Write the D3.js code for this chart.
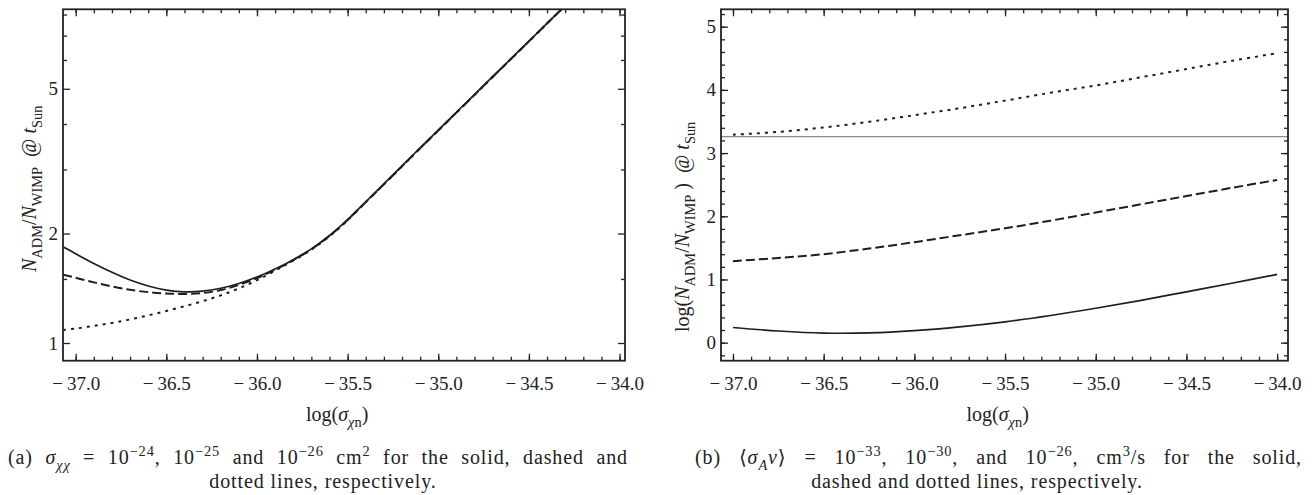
<!DOCTYPE html>
<html>
<head>
<meta charset="utf-8">
<script src="https://cdn.jsdelivr.net/npm/d3@7"></script>
<style>
  body { margin: 0; background: #fff; }
  text { font-family: "Liberation Serif", "DejaVu Serif", serif; fill: #222; white-space: pre; }
</style>
</head>
<body>
<div id="chart"></div>
<script>
// values
const xTickValues = [-37.0, -36.5, -36.0, -35.5, -35.0, -34.5, -34.0]

// (a) ratio on log axis
const xGridA = [-37.07, -37.0, -36.9, -36.8, -36.7, -36.6, -36.5, -36.4, -36.3, -36.2, -36.1, -36.0, -35.9, -35.8, -35.7,
                -35.6, -35.5, -35.4, -35.3, -35.2, -35.1, -35.0, -34.9, -34.8, -34.7, -34.6, -34.5, -34.4, -34.3]
const solidA  = [1.84, 1.76, 1.655, 1.565, 1.49, 1.435, 1.398, 1.382, 1.388, 1.414, 1.458, 1.518, 1.597, 1.695, 1.815,
                 1.975, 2.185, 2.445, 2.74, 3.07, 3.44, 3.85, 4.31, 4.82, 5.40, 6.04, 6.76, 7.57, 8.47]
const dashedA = [1.54, 1.512, 1.468, 1.430, 1.400, 1.380, 1.368, 1.364, 1.372, 1.398, 1.445, 1.508, 1.590, 1.69, 1.81,
                 1.97, 2.18, 2.44, 2.73, 3.06, 3.43, 3.84, 4.30, 4.81, 5.39, 6.03, 6.75, 7.56, 8.46]
const dottedA = [1.086, 1.096, 1.114, 1.135, 1.161, 1.191, 1.225, 1.262, 1.303, 1.352, 1.413, 1.489, 1.581, 1.685, 1.805,
                 1.965, 2.175, 2.44, 2.73, 3.06, 3.43, 3.84, 4.30, 4.81, 5.39, 6.03, 6.75, 7.56, 8.46]
const yTicksA = [1, 2, 5]
const yMinorA = [1.5, 3, 4, 6, 7, 8]

// (b) log of the ratio
const xGridB = [-37.0, -36.75, -36.5, -36.25, -36.0, -35.75, -35.5, -35.25, -35.0, -34.75, -34.5, -34.25, -34.0]
const solidB  = [0.24, 0.185, 0.152, 0.155, 0.19, 0.25, 0.33, 0.43, 0.545, 0.67, 0.805, 0.94, 1.08]
const dashedB = [1.29, 1.34, 1.40, 1.49, 1.59, 1.70, 1.81, 1.93, 2.06, 2.19, 2.32, 2.45, 2.575]
const dottedB = [3.29, 3.335, 3.405, 3.495, 3.60, 3.71, 3.83, 3.955, 4.07, 4.20, 4.33, 4.46, 4.58]
const refLineB = 3.26
const yTicksB = [0, 1, 2, 3, 4, 5]

const W = 1314, H = 495
const svg = d3.select('#chart').append('svg')
    .attr('width', W).attr('height', H)
    .style('background', '#fff')

// helper: text with sub/superscripts
function rich(sel, parts, size) {
    let off = 0
    parts.forEach(p => {
        const [t, m, it] = p
        const target = m === 'sub' ? 0.32 * size : m === 'sup' ? -0.42 * size : 0
        sel.append('tspan')
            .attr('dy', target - off)
            .style('font-size', (m ? size * 0.72 : size) + 'px')
            .style('font-style', it ? 'italic' : 'normal')
            .text(t)
        off = target
    })
    return sel
}

const dashes = { solid: null, dashed: '9,4', dotted: '3,5' }

function panel(cfg) {
    const g = svg.append('g')
    const x = cfg.x, y = cfg.y
    const [x0, x1] = x.range(), [y1, y0] = y.range()

    const clipId = 'clip' + cfg.id
    g.append('clipPath').attr('id', clipId)
        .append('rect').attr('x', x0).attr('y', y0).attr('width', x1 - x0).attr('height', y1 - y0)

    const plot = g.append('g').attr('clip-path', `url(#${clipId})`)

    if (cfg.refLine != null) {
        plot.append('line')
            .attr('x1', x0).attr('x2', x1)
            .attr('y1', y(cfg.refLine)).attr('y2', y(cfg.refLine))
            .attr('stroke', '#8a8a8a').attr('stroke-width', 1.1)
    }

    const line = d3.line().x(d => x(d[0])).y(d => y(d[1])).curve(d3.curveCatmullRom.alpha(0.5))
    cfg.series.forEach(s => {
        plot.append('path')
            .attr('d', line(cfg.xs.map((v, i) => [v, s.values[i]])))
            .attr('fill', 'none')
            .attr('stroke', '#1e1e1e')
            .attr('stroke-width', s.style === 'solid' ? 1.7 : 2)
            .attr('stroke-dasharray', dashes[s.style])
    })

    const xMinor = d3.range(-37.0, -33.95, 0.1).filter(v => v >= x.domain()[0] && v <= x.domain()[1])

    // bottom
    g.append('g').attr('transform', `translate(0,${y1})`)
        .call(d3.axisBottom(x).tickValues(xMinor).tickSize(-4).tickFormat(''))
    g.append('g').attr('class', 'xt').attr('transform', `translate(0,${y1})`)
        .call(d3.axisBottom(x).tickValues(xTickValues).tickSize(-7).tickPadding(9).tickFormat(''))
    // top
    g.append('g').attr('transform', `translate(0,${y0})`)
        .call(d3.axisTop(x).tickValues(xMinor).tickSize(-4).tickFormat(''))
    g.append('g').attr('transform', `translate(0,${y0})`)
        .call(d3.axisTop(x).tickValues(xTickValues).tickSize(-7).tickFormat(''))
    // left
    g.append('g').attr('transform', `translate(${x0},0)`)
        .call(d3.axisLeft(y).tickValues(cfg.yMinor).tickSize(-4).tickFormat(''))
    g.append('g').attr('transform', `translate(${x0},0)`)
        .call(d3.axisLeft(y).tickValues(cfg.yTicks).tickSize(-7).tickPadding(5).tickFormat(d => d))
    // right
    g.append('g').attr('transform', `translate(${x1},0)`)
        .call(d3.axisRight(y).tickValues(cfg.yMinor).tickSize(-4).tickFormat(''))
    g.append('g').attr('transform', `translate(${x1},0)`)
        .call(d3.axisRight(y).tickValues(cfg.yTicks).tickSize(-7).tickFormat(''))

    g.selectAll('.domain').remove()
    g.selectAll('.tick line').attr('stroke', '#222').attr('stroke-width', 1.3)
    g.selectAll('.tick text').style('font-size', '19px').style('font-family', '"Liberation Serif", serif').attr('fill', '#222')

    // x tick labels: minus with a gap, like the TeX output
    g.select('.xt').selectAll('.tick').each(function (d) {
        const t = d3.select(this).select('text').text(null)
            .attr('y', 16).attr('dy', '0.71em')
        t.append('tspan').text('\u2212')
        t.append('tspan').attr('dx', 4).text(Math.abs(d).toFixed(1))
    })

    g.append('rect')
        .attr('x', x0).attr('y', y0).attr('width', x1 - x0).attr('height', y1 - y0)
        .attr('fill', 'none').attr('stroke', '#222').attr('stroke-width', 1.8)

    // x label
    rich(g.append('text').attr('x', (x0 + x1) / 2 - 38).attr('y', 421),
        [['log('], ['σ', null, true], ['χ', 'sub', true], ['n', 'sub'], [')']], 20)
    return g
}

const xA = d3.scaleLinear().domain([-37.07, -33.97]).range([63, 625])
const yA = d3.scaleLog().domain([0.894, 8.27]).range([360.7, 9.3])
panel({
    id: 'a', x: xA, y: yA, xs: xGridA,
    yTicks: yTicksA, yMinor: yMinorA,
    series: [
        { style: 'solid', values: solidA },
        { style: 'dashed', values: dashedA },
        { style: 'dotted', values: dottedA }
    ]
})

const xB = d3.scaleLinear().domain([-37.066, -33.94]).range([721, 1288])
const yB = d3.scaleLinear().domain([-0.285, 5.275]).range([360.7, 9.3])
panel({
    id: 'b', x: xB, y: yB, xs: xGridB,
    yTicks: yTicksB, yMinor: d3.range(-0.2, 5.25, 0.2),
    refLine: refLineB,
    series: [
        { style: 'solid', values: solidB },
        { style: 'dashed', values: dashedB },
        { style: 'dotted', values: dottedB }
    ]
})

// y labels
rich(svg.append('text').attr('transform', 'translate(36,272) rotate(-90)'),
    [['N', null, true], ['ADM', 'sub'], ['/'], ['N', null, true], ['WIMP', 'sub'], ['  @ '], ['t', null, true], ['Sun', 'sub']], 20)
rich(svg.append('text').attr('transform', 'translate(689,332) rotate(-90)'),
    [['log('], ['N', null, true], ['ADM', 'sub'], ['/'], ['N', null, true], ['WIMP', 'sub'], [' )  @ '], ['t', null, true], ['Sun', 'sub']], 20)

// captions
function justify(t, width) {
    const w = t.node().getComputedTextLength()
    const n = (t.text().match(/ /g) || []).length
    t.style('word-spacing', Math.max(0, (width - w) / n) + 'px')
}
const capStyle = t => t.style('font-size', '20px').style('letter-spacing', '0.9px')

const capA1 = rich(capStyle(svg.append('text').attr('x', 8).attr('y', 464)),
    [['(a) '], ['σ', null, true], ['χχ', 'sub', true], [' = 10'], ['−24', 'sup'], [', 10'], ['−25', 'sup'],
     [' and 10'], ['−26', 'sup'], [' cm'], ['2', 'sup'], [' for the solid, dashed and']], 20)
justify(capA1, 620)
capStyle(svg.append('text').attr('x', 323).attr('y', 488).attr('text-anchor', 'middle'))
    .text('dotted lines, respectively.')

const capB1 = rich(capStyle(svg.append('text').attr('x', 695).attr('y', 464)),
    [['(b) ⟨'], ['σ', null, true], ['A', 'sub', true], ['v', null, true], ['⟩ = 10'], ['−33', 'sup'], [', 10'], ['−30', 'sup'],
     [', and 10'], ['−26', 'sup'], [', cm'], ['3', 'sup'], ['/s for the solid,']], 20)
justify(capB1, 607)
capStyle(svg.append('text').attr('x', 977).attr('y', 488).attr('text-anchor', 'middle'))
    .text('dashed and dotted lines, respectively.')
</script>
</body>
</html>
